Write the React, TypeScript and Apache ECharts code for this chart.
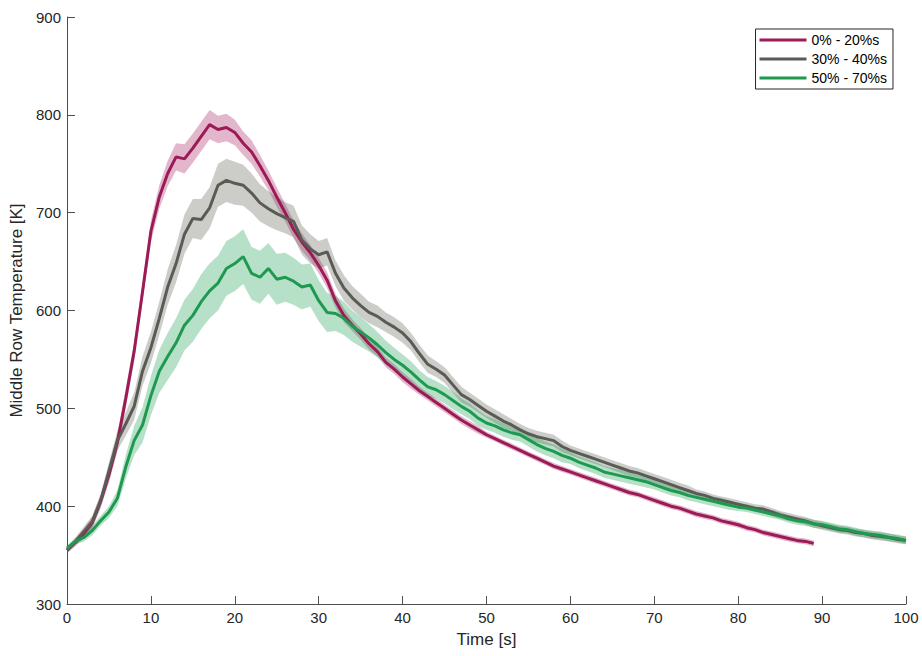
import React, { useEffect, useRef } from "react";
import * as echarts from "echarts";

// sample time step: 1 s, index i -> t = i seconds
const seriesNames = ["0% - 20%s", "30% - 40%s", "50% - 70%s"];

const redMean = [
  355, 363, 372, 383, 405, 432, 465, 510, 558, 619,
  681, 716, 740, 757, 755, 766, 778, 790, 785, 787,
  782, 771, 762, 748, 733, 716, 700, 683, 670, 659,
  646, 631, 610, 595, 585, 576, 566, 558, 547, 540,
  532, 525, 518, 512, 506, 500, 494, 488, 483, 478,
  473, 469, 465, 461, 457, 453, 449, 445, 441, 438,
  435, 432, 429, 426, 423, 420, 417, 414, 412, 409,
  406, 403, 400, 398, 395, 392, 390, 388, 385, 383,
  381, 378, 376, 373, 371, 369, 367, 365, 364, 362,
];
const redBand = [
  3, 4, 5, 6, 7, 8, 9, 10, 10, 10,
  11, 12, 13, 14, 15, 15, 15, 15, 14, 14,
  13, 12, 12, 11, 10, 10, 9, 9, 9, 8,
  8, 8, 7, 7, 6, 6, 6, 5, 5, 5,
  5, 5, 4, 4, 4, 4, 4, 4, 4, 4,
  3, 3, 3, 3, 3, 3, 3, 3, 3, 3,
  3, 3, 3, 3, 3, 3, 3, 3, 3, 3,
  3, 3, 3, 3, 3, 3, 3, 3, 3, 3,
  3, 3, 3, 3, 3, 3, 3, 3, 3, 3,
];

const grayMean = [
  355, 364, 374, 384, 405, 436, 467, 484, 502, 538,
  562, 592, 624, 648, 678, 694, 693, 705, 728, 733,
  730, 728, 720, 710, 704, 699, 695, 691, 672, 663,
  657, 660, 638, 623, 613, 605, 598, 594, 588, 583,
  577, 568, 556, 545, 540, 534, 524, 514, 509, 503,
  497, 492, 487, 483, 478, 474, 471, 469, 467, 461,
  457, 454, 451, 448, 445, 442, 439, 436, 434, 431,
  428, 425, 422, 419, 416, 413, 411, 408, 406, 404,
  402, 400, 398, 397, 394, 391, 389, 387, 385, 382,
  380, 378, 376, 375, 373, 372, 370, 369, 368, 366,
  365,
];
const grayBand = [
  3, 4, 5, 6, 7, 9, 10, 12, 14, 15,
  16, 17, 18, 19, 20, 20, 21, 21, 22, 22,
  22, 21, 20, 19, 18, 17, 16, 16, 15, 15,
  14, 14, 13, 13, 12, 12, 11, 11, 10, 10,
  10, 9, 9, 9, 8, 8, 8, 8, 7, 7,
  7, 7, 7, 6, 6, 6, 6, 6, 6, 6,
  5, 5, 5, 5, 5, 5, 5, 5, 5, 5,
  5, 5, 5, 5, 5, 4, 4, 4, 4, 4,
  4, 4, 4, 4, 4, 4, 4, 4, 4, 4,
  4, 4, 4, 4, 4, 4, 4, 4, 4, 4,
  4,
];

const greenMean = [
  357, 364, 368, 375, 385, 394, 408, 440, 467, 483,
  513, 538, 553, 567, 585, 595, 609, 620, 628, 643,
  648, 655, 638, 634, 643, 632, 634, 630, 624, 626,
  610, 598, 597, 592, 584, 578, 572, 565, 557, 550,
  544, 537, 529, 522, 519, 514, 508, 502, 497, 490,
  485, 482, 478, 475, 473, 468, 463, 459, 456, 452,
  449, 445, 442, 439, 435, 433, 431, 429, 427, 425,
  422, 419, 416, 414, 411, 409, 407, 405, 403, 401,
  399, 398, 396, 394, 392, 390, 387, 385, 384, 382,
  381, 379, 377, 376, 374, 372, 371, 370, 368, 367,
  365,
];
const greenBand = [
  3, 3, 4, 5, 5, 6, 8, 12, 15, 18,
  20, 22, 24, 25, 26, 27, 28, 28, 28, 28,
  28, 28, 27, 27, 26, 26, 25, 24, 23, 22,
  21, 20, 18, 17, 16, 15, 14, 13, 12, 12,
  11, 11, 10, 10, 9, 9, 9, 8, 8, 8,
  7, 7, 7, 7, 7, 7, 7, 7, 7, 7,
  6, 6, 6, 6, 6, 6, 6, 6, 6, 6,
  5, 5, 5, 5, 5, 5, 5, 5, 5, 5,
  4, 4, 4, 4, 4, 4, 4, 4, 4, 4,
  4, 4, 4, 4, 4, 4, 4, 4, 4, 4,
  4,
];

const xTicks = { min: 0, max: 100, interval: 10 };
const yTicks = { min: 300, max: 900, interval: 100 };

const lineColors = ["#9c1a56", "#5b5b56", "#1e9a50"];
const bandColors = [
  "rgba(165, 30, 95, 0.32)",
  "rgba(95, 95, 88, 0.32)",
  "rgba(30, 160, 85, 0.32)",
];

function bandData(mean: number[], band: number[]) {
  return mean.map((m, i) => [i, m - band[i], m + band[i]]);
}

function bandSeries(name: string, data: number[][], color: string) {
  return {
    type: "custom",
    name,
    data,
    encode: { x: 0, y: [1, 2] },
    silent: true,
    clip: true,
    renderItem: (params: any, api: any) => {
      if (params.dataIndex !== 0) return null;
      const upper = data.map((d) => api.coord([d[0], d[2]]));
      const lower = data.map((d) => api.coord([d[0], d[1]])).reverse();
      return {
        type: "polygon",
        shape: { points: upper.concat(lower) },
        style: { fill: color, stroke: "none" },
      };
    },
  };
}

function lineSeries(name: string, mean: number[], color: string) {
  return {
    type: "line",
    name,
    data: mean.map((v, i) => [i, v]),
    symbol: "none",
    lineStyle: { color, width: 3 },
    itemStyle: { color },
  };
}

export default function App() {
  const ref = useRef<HTMLDivElement>(null);
  useEffect(() => {
    if (!ref.current) return;
    const chart = echarts.init(ref.current, undefined, { renderer: "svg" });
    const means = [redMean, grayMean, greenMean];
    const bands = [redBand, grayBand, greenBand];
    const series: any[] = [];
    for (let k = 0; k < 3; k++) {
      series.push(bandSeries("band" + k, bandData(means[k], bands[k]), bandColors[k]));
      series.push(lineSeries(seriesNames[k], means[k], lineColors[k]));
    }
    const axisColor = "#4d4d4d";
    const labelColor = "#262626";
    const font = "Liberation Sans, Arial, Helvetica, sans-serif";
    chart.setOption({
      animation: false,
      backgroundColor: "#ffffff",
      grid: { left: 67, right: 16, top: 17, bottom: 52 },
      legend: {
        data: seriesNames.map((n) => ({ name: n, icon: "rect" })),
        orient: "vertical",
        right: 29,
        top: 29,
        itemWidth: 47,
        itemHeight: 3,
        itemGap: 3,
        padding: [3, 6, 3, 4],
        borderColor: "#262626",
        borderWidth: 1,
        backgroundColor: "#ffffff",
        textStyle: { fontSize: 14, color: "#000", fontFamily: font, lineHeight: 16 },
      },
      xAxis: {
        type: "value",
        min: xTicks.min,
        max: xTicks.max,
        interval: xTicks.interval,
        name: "Time [s]",
        nameLocation: "middle",
        nameGap: 27,
        nameTextStyle: { fontSize: 17, color: labelColor, fontFamily: font },
        axisLine: { show: true, lineStyle: { color: axisColor, width: 1 } },
        axisTick: { show: true, inside: true, length: 8, lineStyle: { color: axisColor } },
        axisLabel: { fontSize: 15, color: labelColor, margin: 6, fontFamily: font },
        splitLine: { show: false },
      },
      yAxis: {
        type: "value",
        min: yTicks.min,
        max: yTicks.max,
        interval: yTicks.interval,
        name: "Middle Row Temperature [K]",
        nameLocation: "middle",
        nameGap: 38,
        nameTextStyle: { fontSize: 17, color: labelColor, fontFamily: font },
        axisLine: { show: true, lineStyle: { color: axisColor, width: 1 } },
        axisTick: { show: true, inside: true, length: 8, lineStyle: { color: axisColor } },
        axisLabel: { fontSize: 15, color: labelColor, margin: 6, fontFamily: font },
        splitLine: { show: false },
      },
      series,
    });
    return () => chart.dispose();
  }, []);
  return (
    <div
      ref={ref}
      style={{ position: "absolute", left: 0, top: 0, width: 922, height: 656 }}
    />
  );
}
